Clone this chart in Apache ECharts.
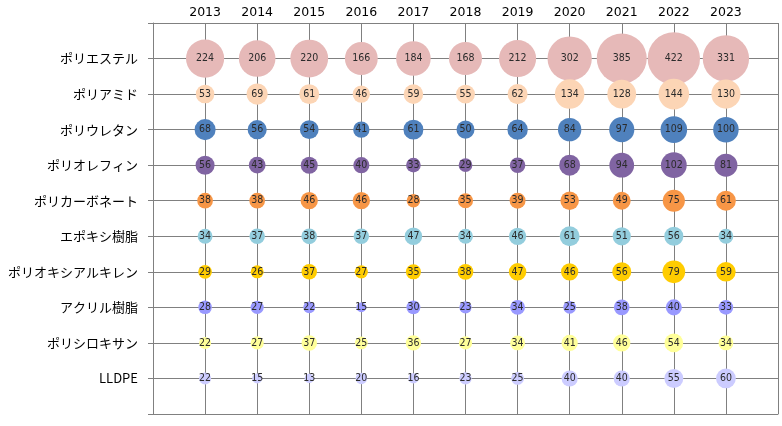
<!DOCTYPE html>
<html><head><meta charset="utf-8">
<script src="https://cdn.jsdelivr.net/npm/echarts@6/dist/echarts.min.js"></script>
<style>html,body{margin:0;padding:0;background:#fff}#c{width:782px;height:426px}</style>
</head><body><div id="c"></div>
<script>
const years = [2013,2014,2015,2016,2017,2018,2019,2020,2021,2022,2023];
const categories = ['ポリエステル','ポリアミド','ポリウレタン','ポリオレフィン','ポリカーボネート','エポキシ樹脂','ポリオキシアルキレン','アクリル樹脂','ポリシロキサン','LLDPE'];
const polyester = [224,206,220,166,184,168,212,302,385,422,331];
const polyamide = [53,69,61,46,59,55,62,134,128,144,130];
const polyurethane = [68,56,54,41,61,50,64,84,97,109,100];
const polyolefin = [56,43,45,40,33,29,37,68,94,102,81];
const polycarbonate = [38,38,46,46,28,35,39,53,49,75,61];
const epoxy = [34,37,38,37,47,34,46,61,51,56,34];
const polyoxyalkylene = [29,26,37,27,35,38,47,46,56,79,59];
const acrylic = [28,27,22,15,30,23,34,25,38,40,33];
const polysiloxane = [22,27,37,25,36,27,34,41,46,54,34];
const lldpe = [22,15,13,20,16,23,25,40,40,55,60];
const seriesValues = [polyester,polyamide,polyurethane,polyolefin,polycarbonate,epoxy,polyoxyalkylene,acrylic,polysiloxane,lldpe];
const colors = ['#E6B9B8','#FCD5B5','#4F81BD','#8064A2','#F79646','#93CDDD','#FFCC00','#9999FF','#FFFF99','#CCCCFF'];

const n = categories.length;
const series = categories.map((name, i) => ({
  name: name,
  type: 'scatter',
  data: years.map((y, j) => [y, n - i, seriesValues[i][j]]),
  symbolSize: d => 2.55 * Math.sqrt(d[2]),
  itemStyle: { color: colors[i], opacity: 1 },
  label: { show: true, position: 'inside', formatter: p => p.value[2], color: '#2b2b2b', fontSize: 10.5, fontFamily: 'DejaVu Sans Condensed' },
  z: 2 + i
}));

const chart = echarts.init(document.getElementById('c'), null, {renderer: 'canvas'});
chart.setOption({
  animation: false,
  grid: { left: 153, right: 4, top: 23, bottom: 12, containLabel: false, outerBoundsMode: 'none' },
  xAxis: {
    type: 'value', position: 'top', min: 2012, max: 2024, interval: 1,
    axisLine: { show: true, lineStyle: { color: '#808080', width: 1 } },
    axisTick: { show: false },
    splitLine: { show: true, lineStyle: { color: '#808080', width: 1 } },
    axisLabel: { color: '#000', fontSize: 12.5, fontFamily: 'DejaVu Sans', margin: 4,
      formatter: v => (v >= years[0] && v <= years[years.length-1]) ? String(v) : '' }
  },
  yAxis: {
    type: 'value', min: 0, max: n + 1, interval: 1,
    axisLine: { show: true, lineStyle: { color: '#808080', width: 1 } },
    axisTick: { show: true, length: 5, lineStyle: { color: '#808080' } },
    splitLine: { show: true, lineStyle: { color: '#808080', width: 1 } },
    axisLabel: { color: '#000', fontSize: 13, fontFamily: 'Noto Sans CJK JP', margin: 15,
      formatter: v => (v >= 1 && v <= n) ? categories[n - v] : '' }
  },
  series: series
});
</script></body></html>
